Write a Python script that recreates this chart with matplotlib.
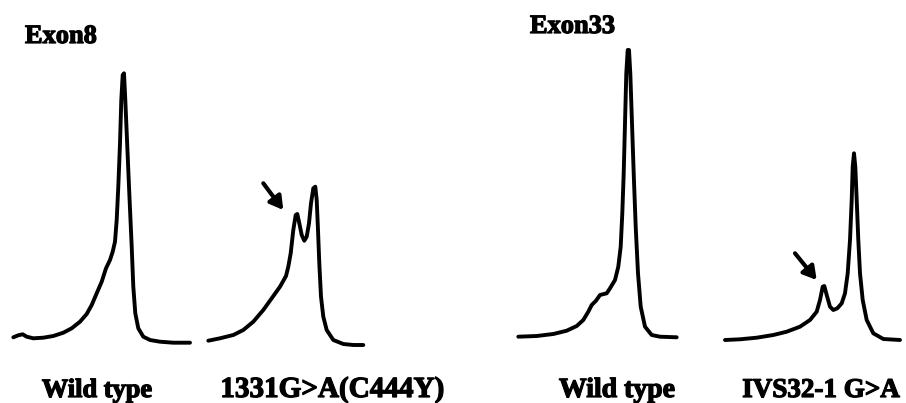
import matplotlib
matplotlib.use("Agg")
import matplotlib.pyplot as plt
import matplotlib.patheffects as pe

# ---- data: retention time (a.u.) and UV signal (a.u.) for each chromatogram ----
exon8_wt_time = [13.3, 18.3, 22.7, 26.7, 33.3, 43.3, 53.3, 63.3, 71.7, 80, 86.7, 91.7, 96.7, 101.7, 106,
                 110, 112.7, 115, 116.7, 118.3, 120, 121.3, 122.7, 124, 125.3, 127.3, 129.3, 131.7, 133.3,
                 135.3, 138.3, 143.3, 150, 160, 173.3, 190]
exon8_wt_signal = [12.7, 14.7, 15.7, 13.3, 11.7, 12.3, 14, 17.3, 21.7, 28.3, 36, 45, 56.7, 68.3, 81.7,
                   90, 98.3, 108.3, 130, 163.3, 206.7, 250, 275, 276.7, 250, 203.3, 156.7, 103.3, 63.3,
                   36.7, 21.7, 13.3, 10, 8.3, 7.3, 7.3]

exon8_mut_time = [8.3, 20, 33.3, 43.3, 53.3, 63.3, 71.7, 80, 86, 88.3, 90.7, 93.3, 95.7, 97.3, 99.3, 101.7,
                  104.3, 106.7, 109, 111, 113.3, 115.3, 116.7, 118, 119.3, 121, 123.3, 126.7, 133.3, 143.3,
                  153.3, 163.3]
exon8_mut_signal = [9.3, 11.7, 15, 20, 28.3, 40, 51.7, 63.3, 74, 83.3, 96.7, 120, 135, 136, 126.7, 115,
                    109.3, 113.3, 126.7, 146.7, 161.7, 163.3, 150, 120, 86.7, 53.3, 33.3, 20, 10, 6, 5, 5]

exon33_wt_time = [18.3, 36.7, 53.3, 66.7, 76.7, 83.3, 88.3, 91.7, 96, 100, 106.7, 110, 115, 118.3, 120.7,
                  122.3, 123.7, 125, 126.3, 127.7, 129, 130.3, 132, 133.7, 135.7, 138, 140.7, 145, 151.7,
                  160, 176.7]
exon33_wt_signal = [13.3, 14, 16, 19.3, 24, 30, 38.3, 45, 49.3, 55, 56.7, 61.7, 70, 83.3, 103.3, 136.7,
                    176.7, 226.7, 276.7, 300, 300, 276.7, 226.7, 176.7, 123.3, 76.7, 43.3, 23.3, 15, 13.3,
                    12.7]

exon33_mut_time = [15, 30, 46.7, 63.3, 76.7, 90, 100, 106.7, 110, 112.7, 114.3, 116.7, 120, 123.3, 127.3,
                   131.7, 135, 137.7, 140, 141.7, 142.7, 144, 145.3, 146.7, 148.3, 150, 152.7, 156.7, 163.3,
                   173.3, 190]
exon33_mut_signal = [10, 10.7, 12.3, 15, 18.3, 23.3, 30, 38.3, 50, 63.3, 64, 55, 43.3, 40, 41.7, 46.7,
                     56.7, 76.7, 110, 150, 183.3, 196.7, 183.3, 150, 110, 76.7, 50, 30, 16.7, 11, 10]

# arrow (tail, head) in each mutant panel's data coordinates
exon8_arrow = ((63.3, 166.7), (83.3, 140))
exon33_arrow = ((85, 96.7), (106.7, 70))

panel_titles = ["Exon8", "Exon33"]
sample_labels = ["Wild type", "1331G>A(C444Y)", "Wild type", "IVS32-1 G>A"]

# ---- layout ----
W, H = 906, 403
fig = plt.figure(figsize=(W / 100, H / 100), dpi=100)
fig.patch.set_facecolor("white")

FONT = "Liberation Serif"
LW = 2.8

panels = [
    (0, 200, exon8_wt_time, exon8_wt_signal, None),
    (200, 180, exon8_mut_time, exon8_mut_signal, exon8_arrow),
    (500, 200, exon33_wt_time, exon33_wt_signal, None),
    (710, 196, exon33_mut_time, exon33_mut_signal, exon33_arrow),
]
y_top_px, y_base_px = 30, 350
for left, width, t, s, arrow in panels:
    ax = fig.add_axes([left / W, (H - y_base_px) / H, width / W, (y_base_px - y_top_px) / H])
    ax.plot(t, s, color="black", lw=LW, solid_joinstyle="round", solid_capstyle="round")
    ax.set_xlim(0, width)
    ax.set_ylim(0, y_base_px - y_top_px)
    ax.axis("off")
    if arrow is not None:
        (x0, y0), (x1, y1) = arrow
        ax.annotate("", xy=(x1, y1), xytext=(x0, y0),
                    arrowprops=dict(arrowstyle="-|>,head_length=0.55,head_width=0.32", lw=3.0,
                                    color="black", shrinkA=0, shrinkB=0, mutation_scale=14))

stroke = [pe.withStroke(linewidth=0.9, foreground="black")]

def ftext(xpx, ypx, s, size, ha="left"):
    fig.text(xpx / W, 1 - ypx / H, s, fontsize=size, fontweight="bold", family=FONT,
             ha=ha, va="baseline", color="black", path_effects=stroke)

ftext(25, 43, panel_titles[0], 19)
ftext(530, 33, panel_titles[1], 19)
ftext(97, 397, sample_labels[0], 19, ha="center")
ftext(332, 397, sample_labels[1], 21, ha="center")
ftext(617, 397, sample_labels[2], 20, ha="center")
ftext(821, 397, sample_labels[3], 19.5, ha="center")

fig.savefig("out.png", dpi=100, facecolor="white")
